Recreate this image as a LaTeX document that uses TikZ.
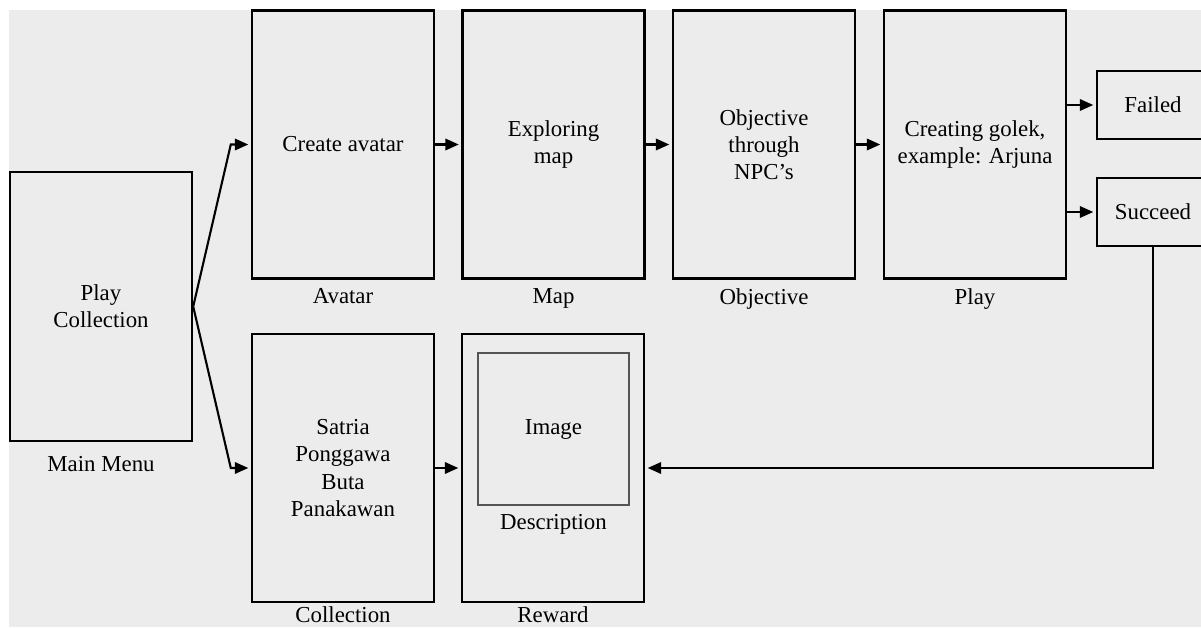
\documentclass[tikz,border=0pt]{standalone}
\usepackage{fontspec}
\setmainfont{Liberation Serif}
\usetikzlibrary{positioning}
\usetikzlibrary{arrows.meta}
\definecolor{paper}{HTML}{ECECEC}
\definecolor{framegray}{HTML}{555555}
\newcommand{\boxfont}{\fontsize{13}{15.5}\selectfont}
\tikzset{
  screen/.style={draw, line width=1.4pt, minimum width=3.64cm, minimum height=5.36cm, align=center, font=\boxfont},
  outcome/.style={draw, line width=1.4pt, minimum width=2.24cm, minimum height=1.36cm, font=\boxfont},
  caption/.style={font=\boxfont, inner sep=2pt},
  flow/.style={line width=1.2pt, -{Triangle[length=0.27cm,width=0.23cm]}, shorten >=0.05cm}
}

\begin{document}
\begin{tikzpicture}[x=0.02cm,y=-0.02cm]
    % Canvas
    \clip (0,0) rectangle (1201,629);
    \fill[paper] (9,10) rectangle (1201,627);
    % Main menu
    \node[screen, minimum height=5.38cm] (menu) at (101,306.5) {Play\\Collection};
    \node[caption, below=6pt of menu] (menulbl) {Main Menu};
    % Play path
    \node[screen] (avatar) at (343,144.5) {Create avatar};
    \node[screen] (map) at (553.5,144.5) {Exploring\\map};
    \node[screen] (objective) at (764,144.5) {Objective\\through\\NPC’s};
    \node[screen] (play) at (975,144.5) {Creating golek,\\example: Arjuna};
    \node[caption, below=3pt of avatar] (avatarlbl) {Avatar};
    \node[caption, below=3pt of map] (maplbl) {Map};
    \node[caption, below=3pt of objective] (objectivelbl) {Objective};
    \node[caption, below=3pt of play] (playlbl) {Play};
    % Outcomes
    \node[outcome] (failed) at (1153,105) {Failed};
    \node[outcome] (succeed) at (1153,212) {Succeed};
    % Collection path
    \node[screen] (collection) at (343,468) {Satria\\Ponggawa\\Buta\\Panakawan};
    \node[screen] (reward) at (553,468) {};
    \node[draw=framegray, line width=0.8pt, minimum width=3.02cm, minimum height=3.04cm, font=\boxfont] (image) at (553.5,429) {Image};
    \node[caption, below=3pt of image] (desc) {Description};
    \node[caption, below=0pt of collection] (collectionlbl) {Collection};
    \node[caption, below=0pt of reward] (rewardlbl) {Reward};
    % Connectors
    \draw[flow] (menu.east) -- ([xshift=-0.4cm]avatar.west) -- (avatar.west);
    \draw[flow] (menu.east) -- ([xshift=-0.4cm]collection.west) -- (collection.west);
    \draw[flow] (avatar) -- (map);
    \draw[flow] (map) -- (objective);
    \draw[flow] (objective) -- (play);
    \draw[flow] (play.east |- failed.west) -- (failed.west);
    \draw[flow] (play.east |- succeed.west) -- (succeed.west);
    \draw[flow] (collection) -- (reward);
    \draw[flow] (succeed.south) |- (reward.east);
\end{tikzpicture}
\end{document}
